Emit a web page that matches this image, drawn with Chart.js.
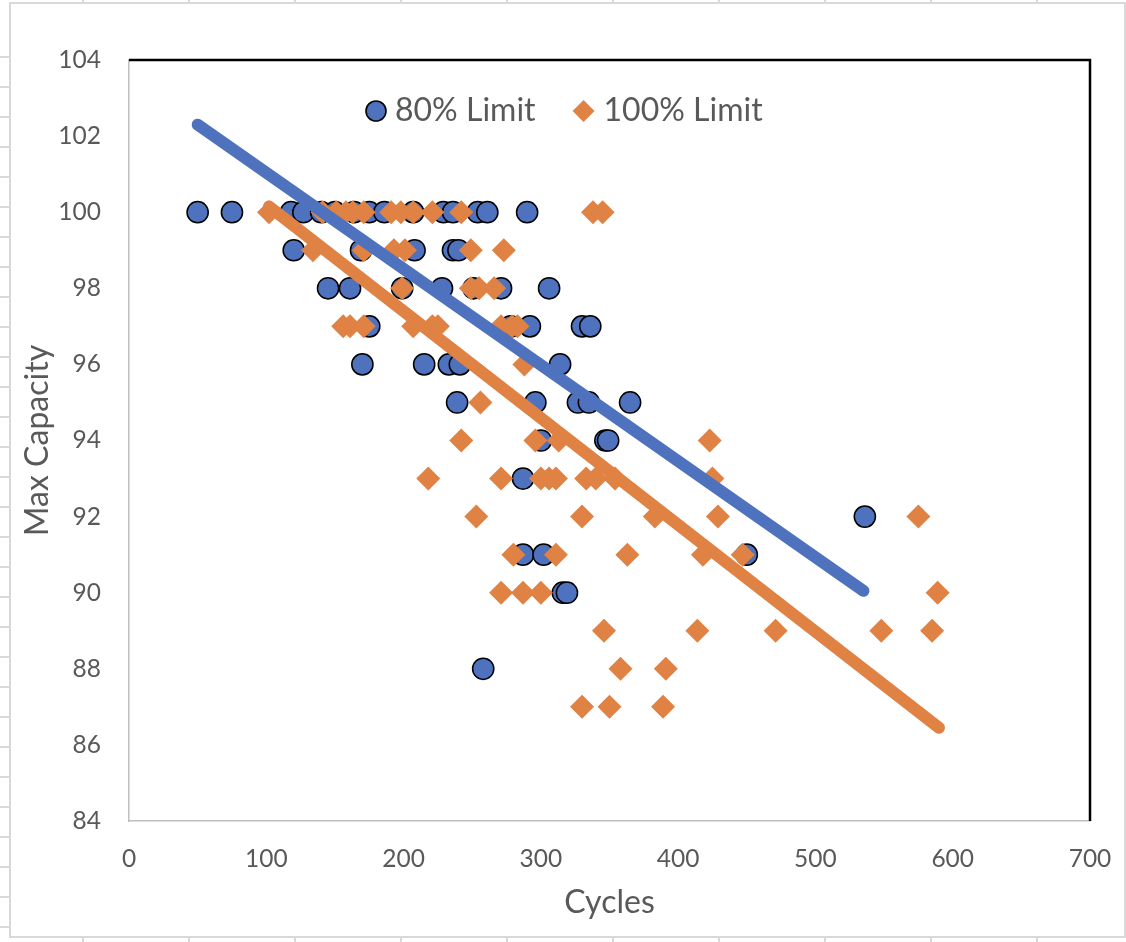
<!DOCTYPE html>
<html>
<head>
<meta charset="utf-8">
<script src="https://cdn.jsdelivr.net/npm/chart.js@4.4.1/dist/chart.umd.min.js"></script>
<style>
  html, body { margin: 0; padding: 0; background: #ffffff; }
  #wrap { position: absolute; left: 0; top: 0; width: 1126px; height: 942px; }
</style>
</head>
<body>
<div id="wrap"><canvas id="c" width="1126" height="942"></canvas></div>
<script>
// ---- Data ----
const seriesNames = ['80% Limit', '100% Limit'];

const cycles80 = [
  50, 75, 118, 127, 140, 150, 164, 175, 186, 207, 229, 236, 254, 261, 290,
  120, 169, 208, 236, 240,
  145, 161, 199, 228, 251, 271, 306,
  175, 278, 292, 330, 336,
  170, 215, 233, 241, 314,
  239, 296, 327, 335, 365,
  300, 347, 349,
  287,
  536,
  287, 302, 450,
  316, 319,
  258
];
const capacity80 = [
  100, 100, 100, 100, 100, 100, 100, 100, 100, 100, 100, 100, 100, 100, 100,
  99, 99, 99, 99, 99,
  98, 98, 98, 98, 98, 98, 98,
  97, 97, 97, 97, 97,
  96, 96, 96, 96, 96,
  95, 95, 95, 95, 95,
  94, 94, 94,
  93,
  92,
  91, 91, 91,
  90, 90,
  88
];

const cycles100 = [
  102, 141, 151, 158, 163, 171, 191, 198, 207, 221, 242, 338, 345,
  134, 171, 193, 201, 249, 273,
  199, 249, 255, 266,
  156, 161, 171, 207, 221, 225, 271, 279, 283,
  288,
  256,
  242, 296, 313, 423,
  218, 271, 300, 306, 311, 333, 340, 354, 425,
  253, 330, 383, 429, 575,
  280, 311, 363, 418, 447,
  271, 287, 300, 589,
  346, 414, 471, 548, 585,
  358, 391,
  330, 350, 389
];
const capacity100 = [
  100, 100, 100, 100, 100, 100, 100, 100, 100, 100, 100, 100, 100,
  99, 99, 99, 99, 99, 99,
  98, 98, 98, 98,
  97, 97, 97, 97, 97, 97, 97, 97, 97,
  96,
  95,
  94, 94, 94, 94,
  93, 93, 93, 93, 93, 93, 93, 93, 93,
  92, 92, 92, 92, 92,
  91, 91, 91, 91, 91,
  90, 90, 90, 90,
  89, 89, 89, 89, 89,
  88, 88,
  87, 87, 87
];

// Linear trendline end points
const trend80X = [50, 535];
const trend80Y = [102.3, 90.05];
const trend100X = [102, 590];
const trend100Y = [100.15, 86.45];

// Axis ticks
const xTicks = [0, 100, 200, 300, 400, 500, 600, 700];
const yTicks = [84, 86, 88, 90, 92, 94, 96, 98, 100, 102, 104];

// ---- Styles ----
const BLUE = '#4E72BE';
const ORANGE = '#DF8244';
const TEXT = '#595959';
const FONT = 'Lato, "Open Sans", "Liberation Sans", sans-serif';

const zip = (xs, ys) => xs.map((x, i) => ({ x: x, y: ys[i] }));

const framePlugin = {
  id: 'frame',
  beforeDraw(chart) {
    const ctx = chart.ctx;
    ctx.save();
    ctx.fillStyle = '#ffffff';
    ctx.fillRect(0, 0, chart.width, chart.height);
    ctx.strokeStyle = '#d9d9d9';
    ctx.lineWidth = 2;
    // spreadsheet cell lines outside the chart
    ctx.beginPath();
    for (let y = 57; y < 937; y += 30) { ctx.moveTo(0, y); ctx.lineTo(10, y); }
    for (let x = 83; x < 1126; x += 106) { ctx.moveTo(x, 937); ctx.lineTo(x, 942); ctx.moveTo(x, 0); ctx.lineTo(x, 3); }
    ctx.stroke();
    // chart frame
    ctx.strokeRect(10, 3, 1115, 934);
    ctx.restore();
  },
  afterDraw(chart) {
    const ctx = chart.ctx;
    const a = chart.chartArea;
    ctx.save();
    // plot-area border top & right (black)
    ctx.strokeStyle = '#000000';
    ctx.lineWidth = 2.5;
    ctx.beginPath();
    ctx.moveTo(a.left, a.top);
    ctx.lineTo(a.right, a.top);
    ctx.lineTo(a.right, a.bottom);
    ctx.stroke();

    // legend inside plot area
    const ly = a.top + 51;
    let lx = a.left + 247;
    ctx.font = '32px ' + FONT;
    ctx.textBaseline = 'middle';
    ctx.textAlign = 'left';
    // circle marker
    ctx.beginPath();
    ctx.arc(lx, ly, 10, 0, Math.PI * 2);
    ctx.fillStyle = BLUE;
    ctx.fill();
    ctx.lineWidth = 1.6;
    ctx.strokeStyle = '#000000';
    ctx.stroke();
    ctx.fillStyle = TEXT;
    ctx.fillText(seriesNames[0], lx + 19, ly);
    lx = lx + 19 + ctx.measureText(seriesNames[0]).width + 48;
    // diamond marker
    ctx.beginPath();
    ctx.moveTo(lx, ly - 11);
    ctx.lineTo(lx + 11, ly);
    ctx.lineTo(lx, ly + 11);
    ctx.lineTo(lx - 11, ly);
    ctx.closePath();
    ctx.fillStyle = ORANGE;
    ctx.fill();
    ctx.fillStyle = TEXT;
    ctx.fillText(seriesNames[1], lx + 20, ly);
    ctx.restore();
  }
};

new Chart(document.getElementById('c'), {
  type: 'scatter',
  data: {
    datasets: [
      {
        label: seriesNames[0],
        data: zip(cycles80, capacity80),
        pointStyle: 'circle',
        pointRadius: 10.6,
        pointHoverRadius: 10.6,
        backgroundColor: BLUE,
        borderColor: '#000000',
        borderWidth: 1.5,
        order: 4
      },
      {
        label: seriesNames[1],
        data: zip(cycles100, capacity100),
        pointStyle: 'rectRot',
        pointRadius: 12,
        pointHoverRadius: 12,
        backgroundColor: ORANGE,
        borderColor: ORANGE,
        borderWidth: 0,
        order: 3
      },
      {
        label: 'trend100',
        type: 'line',
        data: zip(trend100X, trend100Y),
        borderColor: ORANGE,
        borderWidth: 12,
        borderCapStyle: 'round',
        pointRadius: 0,
        fill: false,
        order: 2
      },
      {
        label: 'trend80',
        type: 'line',
        data: zip(trend80X, trend80Y),
        borderColor: BLUE,
        borderWidth: 12,
        borderCapStyle: 'round',
        pointRadius: 0,
        fill: false,
        order: 1
      }
    ]
  },
  options: {
    responsive: false,
    animation: false,
    devicePixelRatio: 1,
    layout: { padding: { left: 0, top: 60, right: 36, bottom: 0 } },
    plugins: {
      legend: { display: false },
      tooltip: { enabled: false }
    },
    scales: {
      x: {
        type: 'linear',
        min: xTicks[0],
        max: xTicks[xTicks.length - 1],
        afterBuildTicks(scale) { scale.ticks = xTicks.map(v => ({ value: v })); },
        afterFit(scale) { scale.height = 121; scale.paddingLeft = 0; scale.paddingRight = 0; },
        grid: { display: false, drawTicks: false },
        border: { display: true, color: '#BFBFBF', width: 1.5 },
        ticks: { color: TEXT, font: { family: FONT, size: 24.5 }, padding: 23, maxRotation: 0 },
        title: { display: true, text: 'Cycles', color: TEXT, font: { family: FONT, size: 32 }, padding: { top: 0, bottom: 20 } }
      },
      y: {
        type: 'linear',
        min: yTicks[0],
        max: yTicks[yTicks.length - 1],
        afterBuildTicks(scale) { scale.ticks = yTicks.map(v => ({ value: v })); },
        afterFit(scale) { scale.width = 129; scale.paddingTop = 0; scale.paddingBottom = 0; },
        grid: { display: false, drawTicks: false },
        border: { display: true, color: '#BFBFBF', width: 1.5 },
        ticks: { color: TEXT, font: { family: FONT, size: 24.5 }, padding: 28 },
        title: { display: true, text: 'Max Capacity', color: TEXT, font: { family: FONT, size: 32 }, padding: { top: 18, bottom: 0 } }
      }
    }
  },
  plugins: [framePlugin]
});
</script>
</body>
</html>
